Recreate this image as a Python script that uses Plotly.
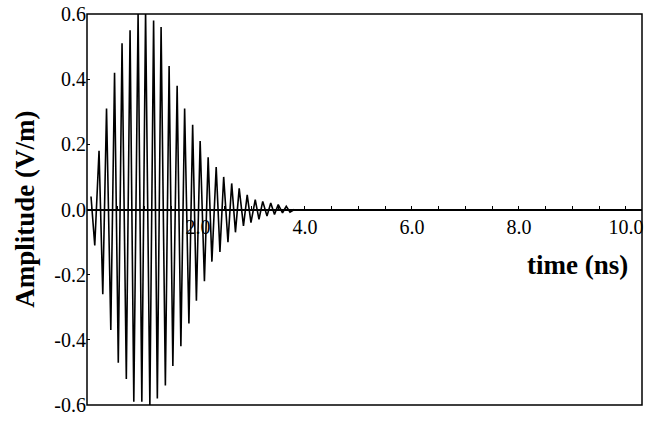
import plotly.graph_objects as go

# peak times (ns) of the ringing pulse
time_ns = [0.00, 0.07, 0.15, 0.22, 0.29, 0.37, 0.44, 0.51, 0.58, 0.66,
           0.73, 0.80, 0.88, 0.95, 1.02, 1.10, 1.17, 1.24, 1.31, 1.39,
           1.46, 1.53, 1.61, 1.68, 1.75, 1.83, 1.90, 1.97, 2.04, 2.12,
           2.19, 2.26, 2.34, 2.41, 2.48, 2.56, 2.63, 2.70, 2.77, 2.85,
           2.92, 2.99, 3.07, 3.14, 3.21, 3.29, 3.36, 3.43, 3.50, 3.58,
           3.65, 3.72, 3.80]

# amplitude (V/m) at each of those peaks
amplitude = [0.04, -0.11, 0.18, -0.26, 0.31, -0.37, 0.42, -0.47, 0.51, -0.52,
             0.55, -0.59, 0.60, -0.59, 0.61, -0.60, 0.58, -0.58, 0.56, -0.54,
             0.44, -0.48, 0.38, -0.42, 0.31, -0.35, 0.26, -0.28, 0.21, -0.22,
             0.16, -0.16, 0.13, -0.13, 0.10, -0.10, 0.08, -0.07, 0.065, -0.05,
             0.045, -0.04, 0.03, -0.03, 0.025, -0.02, 0.02, -0.015, 0.015, -0.01,
             0.01, -0.008, 0.0]

x_tick_vals = [2, 4, 6, 8, 10]
x_tick_text = ["2.0", "4.0", "6.0", "8.0", "10.0"]
y_tick_vals = [0.6, 0.4, 0.2, 0.0, -0.2, -0.4, -0.6]
y_tick_text = ["0.6", "0.4", "0.2", "0.0", "-0.2", "-0.4", "-0.6"]

FONT = "Liberation Serif"


def main():
    fig = go.Figure()
    fig.add_trace(go.Scatter(x=time_ns, y=amplitude, mode="lines",
                             line=dict(color="black", width=1.6),
                             showlegend=False, hoverinfo="skip"))

    fig.update_layout(
        width=645, height=422,
        margin=dict(l=87, r=3, t=14, b=17),
        plot_bgcolor="white", paper_bgcolor="white",
        font=dict(family=FONT, color="black"),
    )

    # x axis sits on the zero line, in the middle of the box
    fig.update_xaxes(range=[-0.075, 10.3], anchor="free", position=0.5,
                     showline=True, linecolor="black", linewidth=1.5,
                     showgrid=False, zeroline=False,
                     tickvals=x_tick_vals, ticktext=x_tick_text,
                     ticks="inside", ticklen=3, tickcolor="black",
                     minor=dict(dtick=0.5, ticks="inside", ticklen=3, tickcolor="black"),
                     ticklabeloverflow="allow",
                     tickfont=dict(family=FONT, size=20, color="black"))

    fig.update_yaxes(range=[-0.6, 0.6], showline=False, showgrid=False, zeroline=False,
                     tickvals=y_tick_vals, ticktext=y_tick_text,
                     ticks="inside", ticklen=3, tickcolor="black",
                     ticklabeloverflow="allow",
                     tickfont=dict(family=FONT, size=20, color="black"))

    # frame round the plot
    fig.add_shape(type="rect", xref="paper", yref="paper", x0=0, x1=1, y0=0, y1=1,
                  line=dict(color="black", width=1.5), layer="above")

    fig.add_annotation(text="<b>Amplitude (V/m)</b>", xref="paper", yref="paper",
                       x=-0.113, y=0.5, xanchor="center", yanchor="middle",
                       textangle=-90, showarrow=False,
                       font=dict(family=FONT, size=27, color="black"))
    fig.add_annotation(text="<b>time (ns)</b>", xref="paper", yref="paper",
                       x=0.884, y=0.358, xanchor="center", yanchor="middle",
                       showarrow=False,
                       font=dict(family=FONT, size=27, color="black"))

    # drop the default body margin so the figure fills the window
    fig.write_html("out.html", config={"displayModeBar": False},
                   post_script="document.body.style.margin = '0';")


if __name__ == "__main__":
    main()
